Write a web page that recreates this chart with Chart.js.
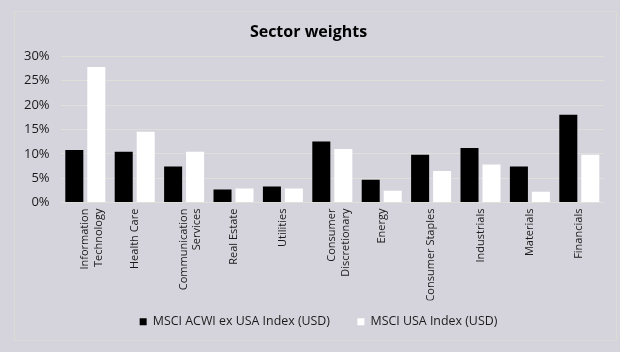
<!DOCTYPE html>
<html>
<head>
<meta charset="utf-8">
<script src="https://cdn.jsdelivr.net/npm/chart.js@4"></script>
<style>
  html, body { margin: 0; padding: 0; background: #d5d4dd; }
  #wrap { position: relative; width: 620px; height: 352px; }
  #frame { position: absolute; left: 14px; top: 11px; width: 601px; height: 328px; border: 1px solid #dcdcd5; }
  canvas { position: absolute; left: 0; top: 0; }
</style>
</head>
<body>
<div id="wrap">
  <div id="frame"></div>
  <canvas id="chart" width="620" height="352"></canvas>
</div>
<script>
// sector names (multi-line labels)
const sectors = [
    ['Information', 'Technology'],
    'Health Care',
    ['Communication', 'Services'],
    'Real Estate',
    'Utilities',
    ['Consumer', 'Discretionary'],
    'Energy',
    'Consumer Staples',
    'Industrials',
    'Materials',
    'Financials'
];
const acwiExUsa = [10.8, 10.4, 7.4, 2.7, 3.3, 12.5, 4.7, 9.8, 11.2, 7.4, 18.0];
const msciUsa = [27.8, 14.5, 10.4, 2.9, 2.9, 11.0, 2.45, 6.5, 7.8, 2.2, 9.8];
const seriesNames = ['MSCI ACWI ex USA Index (USD)', 'MSCI USA Index (USD)'];

const fontFamily = '"Open Sans", "Noto Sans", sans-serif';
Chart.defaults.font.family = fontFamily;
Chart.defaults.color = '#1a1a1a';

// legend sits a little right of centre in the original
const nudgeLegend = {
    id: 'nudgeLegend',
    afterLayout: chart => { chart.legend.left += 20; }
};

const ctx = document.getElementById('chart').getContext('2d');
new Chart(ctx, {
    type: 'bar',
    data: {
        labels: sectors,
        datasets: [{
            label: seriesNames[0],
            data: acwiExUsa,
            backgroundColor: '#000000',
            borderWidth: 0
        }, {
            label: seriesNames[1],
            data: msciUsa,
            backgroundColor: '#ffffff',
            borderWidth: 0
        }]
    },
    plugins: [nudgeLegend],
    options: {
        responsive: false,
        animation: false,
        layout: { padding: { left: 13, right: 16, top: 8, bottom: 14 } },
        categoryPercentage: 0.89,
        barPercentage: 0.82,
        plugins: {
            title: {
                display: true,
                text: 'Sector weights',
                font: { size: 16, weight: 'bold' },
                color: '#000',
                padding: { top: 15, bottom: 14 }
            },
            legend: {
                position: 'bottom',
                labels: {
                    boxWidth: 7,
                    boxHeight: 7,
                    padding: 15,
                    font: { size: 12.4 },
                    color: '#1a1a1a',
                    // a bit more room between the two entries
                    generateLabels: chart => {
                        const items = Chart.defaults.plugins.legend.labels.generateLabels(chart);
                        items[0].text += '\u2002\u2002';
                        return items;
                    }
                }
            },
            tooltip: { enabled: false }
        },
        scales: {
            x: {
                grid: { display: false },
                border: { display: false },
                ticks: {
                    minRotation: 90,
                    maxRotation: 90,
                    autoSkip: false,
                    font: { size: 11 },
                    padding: -2
                },
                afterFit: scale => {
                    scale.height = 98;
                    scale.paddingLeft = 0;
                    scale.paddingRight = 0;
                }
            },
            y: {
                min: 0,
                max: 30,
                grid: { color: '#e0dfda', lineWidth: 1, drawTicks: false },
                border: { display: false },
                ticks: {
                    stepSize: 5,
                    font: { size: 13 },
                    padding: 11,
                    callback: v => v + '%'
                }
            }
        }
    }
});
</script>
</body>
</html>
